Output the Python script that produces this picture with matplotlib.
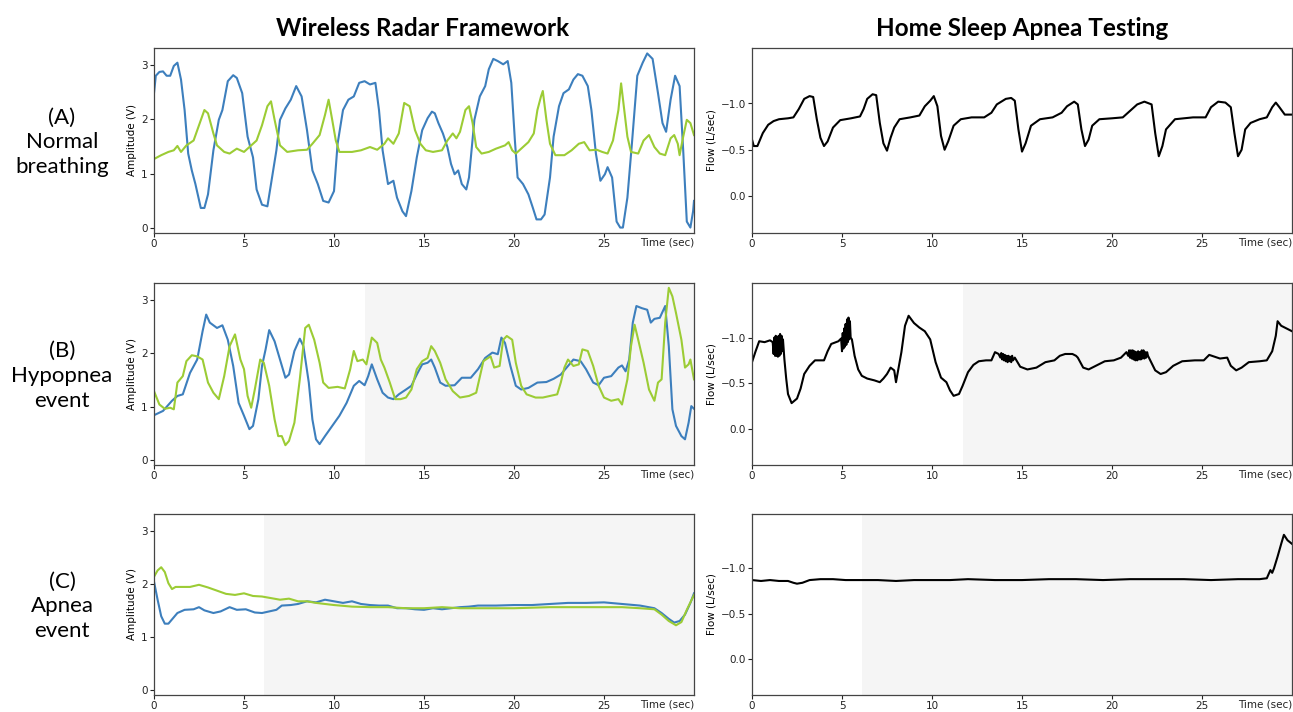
import matplotlib
matplotlib.use("Agg")
import matplotlib.pyplot as plt

# ---- data (time in s, value) ----
a_blue = [(0, 2.48), (0.1, 2.8), (0.3, 2.87), (0.5, 2.88), (0.7, 2.8), (0.9, 2.8), (1.1, 2.98), (1.3, 3.04),
          (1.5, 2.73), (1.7, 2.17), (1.9, 1.37), (2.1, 1.06), (2.3, 0.81), (2.6, 0.37), (2.8, 0.37), (3.0, 0.62),
          (3.3, 1.43), (3.6, 1.99), (3.8, 2.17), (4.1, 2.70), (4.4, 2.81), (4.6, 2.76), (4.9, 2.48), (5.2, 1.68),
          (5.5, 1.30), (5.7, 0.71), (6.0, 0.43), (6.3, 0.40), (6.5, 0.81), (6.8, 1.43), (7.0, 1.99), (7.3, 2.20),
          (7.6, 2.36), (7.9, 2.61), (8.2, 2.42), (8.5, 1.80), (8.8, 1.06), (9.1, 0.81), (9.4, 0.50), (9.7, 0.47),
          (10.0, 0.68), (10.2, 1.55), (10.5, 2.17), (10.8, 2.36), (11.1, 2.42), (11.4, 2.67), (11.7, 2.70),
          (12.0, 2.64), (12.3, 2.67), (12.5, 2.17), (12.7, 1.43), (13.0, 0.81), (13.3, 0.87), (13.5, 0.56),
          (13.8, 0.31), (14.0, 0.22), (14.3, 0.68), (14.6, 1.30), (14.9, 1.80), (15.2, 2.02), (15.44, 2.14),
          (15.6, 2.11), (15.8, 1.93), (16.05, 1.74), (16.3, 1.49), (16.5, 1.18), (16.7, 0.99), (16.9, 1.06),
          (17.1, 0.81), (17.35, 0.71), (17.5, 0.93), (17.8, 1.99), (18.1, 2.42), (18.4, 2.61), (18.6, 2.92),
          (18.85, 3.11), (19.1, 3.07), (19.4, 3.01), (19.65, 3.07), (19.85, 2.67), (20.05, 1.61), (20.2, 0.93),
          (20.5, 0.81), (20.8, 0.62), (21.05, 0.37), (21.25, 0.16), (21.5, 0.16), (21.7, 0.25), (22.0, 0.93),
          (22.2, 1.68), (22.5, 2.24), (22.75, 2.48), (23.05, 2.55), (23.3, 2.73), (23.55, 2.83), (23.8, 2.80),
          (24.1, 2.61), (24.3, 2.17), (24.55, 1.37), (24.8, 0.87), (25.05, 0.99), (25.2, 1.12), (25.45, 0.93),
          (25.7, 0.12), (25.9, 0.01), (26.05, 0.01), (26.3, 0.56), (26.55, 1.55), (26.85, 2.80), (27.15, 3.04),
          (27.4, 3.21), (27.7, 3.11), (28.0, 2.48), (28.25, 1.93), (28.45, 1.77), (28.7, 2.36), (28.95, 2.80),
          (29.2, 2.61), (29.4, 1.43), (29.6, 0.12), (29.8, 0.01), (29.95, 0.31), (30, 0.50)]

a_green = [(0, 1.27), (0.4, 1.34), (0.8, 1.40), (1.1, 1.43), (1.3, 1.51), (1.5, 1.40), (1.8, 1.52), (2.2, 1.61),
           (2.5, 1.89), (2.8, 2.17), (3.0, 2.11), (3.3, 1.74), (3.5, 1.52), (3.9, 1.40), (4.2, 1.37), (4.6, 1.46),
           (5.0, 1.40), (5.3, 1.49), (5.7, 1.61), (6.0, 1.89), (6.3, 2.24), (6.5, 2.33), (6.7, 1.99), (7.0, 1.52),
           (7.4, 1.40), (8.0, 1.43), (8.5, 1.44), (8.8, 1.55), (9.2, 1.71), (9.5, 2.08), (9.7, 2.36), (9.9, 1.99),
           (10.1, 1.61), (10.3, 1.40), (11.0, 1.40), (11.5, 1.43), (12.0, 1.49), (12.4, 1.44), (12.8, 1.55),
           (13.0, 1.65), (13.3, 1.55), (13.6, 1.74), (13.9, 2.30), (14.2, 2.24), (14.5, 1.80), (14.8, 1.55),
           (15.1, 1.43), (15.5, 1.40), (16.0, 1.43), (16.3, 1.61), (16.6, 1.74), (16.8, 1.65), (17.0, 1.77),
           (17.3, 2.17), (17.5, 2.24), (17.7, 1.93), (17.9, 1.49), (18.2, 1.37), (18.6, 1.40), (19.0, 1.46),
           (19.5, 1.52), (19.7, 1.58), (19.9, 1.43), (20.1, 1.37), (20.5, 1.49), (20.8, 1.58), (21.1, 1.74),
           (21.3, 2.17), (21.5, 2.42), (21.6, 2.52), (21.8, 1.99), (22.0, 1.55), (22.3, 1.34), (22.8, 1.34),
           (23.2, 1.43), (23.6, 1.55), (23.9, 1.58), (24.2, 1.43), (24.6, 1.44), (24.9, 1.40), (25.2, 1.37),
           (25.5, 1.61), (25.8, 2.17), (25.95, 2.66), (26.1, 2.24), (26.3, 1.68), (26.5, 1.40), (26.9, 1.37),
           (27.2, 1.61), (27.5, 1.71), (27.8, 1.49), (28.1, 1.37), (28.4, 1.34), (28.7, 1.65), (28.9, 1.71),
           (29.1, 1.55), (29.2, 1.34), (29.4, 1.68), (29.6, 1.99), (29.8, 1.93), (30, 1.71)]

b_blue = [(0, 0.84), (0.5, 0.92), (1.0, 1.11), (1.3, 1.20), (1.6, 1.23), (2.0, 1.63), (2.4, 1.88), (2.7, 2.41),
          (2.9, 2.72), (3.1, 2.57), (3.5, 2.47), (3.8, 2.52), (4.1, 2.25), (4.4, 1.76), (4.7, 1.07), (5.0, 0.83),
          (5.3, 0.58), (5.5, 0.64), (5.8, 1.14), (6.0, 1.76), (6.2, 2.07), (6.4, 2.43), (6.7, 2.22), (7.0, 1.88),
          (7.3, 1.54), (7.5, 1.60), (7.8, 2.04), (8.1, 2.27), (8.3, 2.13), (8.6, 1.45), (8.8, 0.76), (9.0, 0.39),
          (9.2, 0.30), (9.5, 0.45), (9.9, 0.64), (10.3, 0.83), (10.7, 1.07), (11.1, 1.39), (11.4, 1.48),
          (11.7, 1.40), (11.9, 1.57), (12.1, 1.79), (12.4, 1.51), (12.7, 1.26), (13.0, 1.17), (13.3, 1.14),
          (13.6, 1.23), (14.0, 1.32), (14.3, 1.39), (14.6, 1.60), (14.9, 1.79), (15.2, 1.82), (15.4, 1.88),
          (15.6, 1.73), (15.9, 1.45), (16.2, 1.39), (16.7, 1.40), (17.1, 1.54), (17.6, 1.54), (18.0, 1.70),
          (18.4, 1.91), (18.8, 2.01), (19.1, 1.98), (19.3, 2.29), (19.5, 2.19), (19.8, 1.76), (20.1, 1.39),
          (20.4, 1.32), (20.8, 1.35), (21.3, 1.45), (21.8, 1.46), (22.2, 1.52), (22.6, 1.60), (23.0, 1.76),
          (23.3, 1.88), (23.7, 1.85), (24.0, 1.70), (24.4, 1.45), (24.7, 1.40), (25.0, 1.54), (25.4, 1.57),
          (25.8, 1.73), (26.0, 1.77), (26.2, 1.66), (26.4, 1.88), (26.6, 2.57), (26.8, 2.88), (27.1, 2.84),
          (27.4, 2.81), (27.6, 2.57), (27.8, 2.64), (28.1, 2.66), (28.4, 2.88), (28.6, 2.13), (28.8, 0.95),
          (29.0, 0.64), (29.3, 0.45), (29.5, 0.39), (29.7, 0.70), (29.85, 1.01), (30, 0.96)]

b_green = [(0, 1.29), (0.3, 1.04), (0.6, 0.96), (0.9, 0.98), (1.1, 0.95), (1.3, 1.45), (1.6, 1.57), (1.8, 1.85),
           (2.1, 1.96), (2.4, 1.94), (2.7, 1.88), (3.0, 1.45), (3.3, 1.26), (3.6, 1.14), (3.9, 1.57), (4.2, 2.13),
           (4.5, 2.35), (4.8, 1.88), (5.0, 1.70), (5.2, 1.20), (5.4, 0.98), (5.6, 1.32), (5.9, 1.88), (6.1, 1.82),
           (6.4, 1.39), (6.7, 0.76), (6.9, 0.45), (7.1, 0.45), (7.3, 0.28), (7.5, 0.36), (7.8, 0.70), (8.1, 1.51),
           (8.4, 2.47), (8.6, 2.53), (8.9, 2.25), (9.2, 1.82), (9.4, 1.45), (9.7, 1.35), (10.2, 1.37), (10.6, 1.34),
           (10.9, 1.70), (11.1, 2.04), (11.3, 1.85), (11.6, 1.88), (11.8, 1.79), (12.1, 2.29), (12.4, 2.19),
           (12.6, 1.88), (12.8, 1.73), (13.1, 1.45), (13.4, 1.14), (13.7, 1.14), (14.0, 1.17), (14.3, 1.32),
           (14.6, 1.70), (14.9, 1.85), (15.2, 1.91), (15.4, 2.13), (15.6, 2.04), (15.9, 1.82), (16.2, 1.51),
           (16.6, 1.29), (17.0, 1.17), (17.5, 1.20), (17.9, 1.26), (18.3, 1.85), (18.7, 1.94), (18.9, 1.73),
           (19.2, 1.76), (19.4, 2.25), (19.6, 2.32), (19.9, 2.25), (20.1, 1.82), (20.4, 1.39), (20.7, 1.23),
           (21.2, 1.17), (21.6, 1.17), (22.0, 1.20), (22.4, 1.23), (22.6, 1.45), (22.8, 1.73), (23.0, 1.88),
           (23.3, 1.76), (23.6, 1.79), (23.8, 2.07), (24.1, 2.04), (24.4, 1.76), (24.7, 1.39), (25.0, 1.17),
           (25.4, 1.11), (25.8, 1.14), (26.0, 1.04), (26.3, 1.51), (26.5, 2.13), (26.7, 2.53), (26.9, 2.25),
           (27.2, 1.82), (27.5, 1.32), (27.8, 1.11), (28.0, 1.45), (28.2, 1.51), (28.4, 2.57), (28.6, 3.22),
           (28.8, 3.06), (29.0, 2.75), (29.3, 2.25), (29.5, 1.73), (29.7, 1.79), (29.8, 1.88), (30, 1.51)]

c_blue = [(0, 2.04), (0.2, 1.70), (0.4, 1.39), (0.6, 1.25), (0.8, 1.25), (1.0, 1.33), (1.3, 1.45), (1.7, 1.51),
          (2.2, 1.52), (2.5, 1.56), (2.8, 1.50), (3.3, 1.45), (3.7, 1.48), (4.2, 1.56), (4.6, 1.51), (5.1, 1.52),
          (5.6, 1.46), (6.0, 1.45), (6.4, 1.48), (6.8, 1.51), (7.1, 1.59), (7.6, 1.60), (8.0, 1.62), (8.5, 1.67),
          (9.0, 1.65), (9.5, 1.70), (10.0, 1.67), (10.5, 1.64), (11.0, 1.67), (11.5, 1.62), (12.0, 1.60),
          (12.5, 1.59), (13.0, 1.59), (13.5, 1.54), (14.0, 1.54), (14.5, 1.52), (15.0, 1.51), (15.5, 1.54),
          (16.0, 1.52), (16.5, 1.54), (17.0, 1.56), (17.5, 1.57), (18.0, 1.59), (19.0, 1.59), (20.0, 1.60),
          (21.0, 1.60), (22.0, 1.62), (23.0, 1.64), (24.0, 1.64), (25.0, 1.65), (26.0, 1.62), (27.0, 1.59),
          (27.8, 1.54), (28.2, 1.45), (28.6, 1.34), (28.9, 1.27), (29.2, 1.30), (29.5, 1.42), (29.8, 1.64),
          (30, 1.82)]

c_green = [(0, 2.13), (0.2, 2.25), (0.4, 2.31), (0.6, 2.22), (0.8, 2.01), (1.0, 1.90), (1.2, 1.94), (1.6, 1.94),
           (2.0, 1.94), (2.5, 1.98), (3.0, 1.93), (3.5, 1.87), (4.0, 1.81), (4.5, 1.79), (5.0, 1.82), (5.5, 1.77),
           (6.0, 1.76), (6.5, 1.73), (7.0, 1.70), (7.5, 1.72), (8.0, 1.67), (8.5, 1.67), (9.0, 1.64), (10.0, 1.60),
           (11.0, 1.57), (12.0, 1.56), (13.0, 1.56), (14.0, 1.54), (15.0, 1.54), (16.0, 1.56), (17.0, 1.54),
           (18.0, 1.54), (20.0, 1.54), (22.0, 1.56), (24.0, 1.56), (26.0, 1.56), (27.0, 1.54), (27.8, 1.52),
           (28.2, 1.42), (28.6, 1.30), (29.0, 1.22), (29.3, 1.28), (29.6, 1.51), (30, 1.79)]

a_flow = [(0, -0.61), (0.1, -0.54), (0.3, -0.54), (0.6, -0.68), (0.9, -0.77), (1.2, -0.81), (1.5, -0.83),
          (2.0, -0.84), (2.3, -0.85), (2.6, -0.94), (2.9, -1.05), (3.2, -1.08), (3.4, -1.07), (3.6, -0.83),
          (3.8, -0.63), (4.0, -0.54), (4.2, -0.59), (4.5, -0.74), (4.9, -0.82), (5.5, -0.84), (6.0, -0.86),
          (6.2, -0.94), (6.4, -1.05), (6.7, -1.10), (6.9, -1.09), (7.1, -0.79), (7.3, -0.57), (7.5, -0.49),
          (7.7, -0.63), (7.9, -0.74), (8.2, -0.83), (8.8, -0.85), (9.3, -0.87), (9.6, -0.97), (9.9, -1.03),
          (10.1, -1.08), (10.3, -0.97), (10.5, -0.65), (10.7, -0.50), (10.9, -0.59), (11.2, -0.76), (11.6, -0.83),
          (12.2, -0.85), (12.9, -0.85), (13.3, -0.90), (13.6, -0.99), (14.1, -1.05), (14.4, -1.06), (14.6, -1.03),
          (14.8, -0.72), (15.0, -0.48), (15.2, -0.57), (15.5, -0.76), (16.0, -0.83), (16.7, -0.85), (17.2, -0.90),
          (17.5, -0.97), (17.9, -1.02), (18.1, -0.99), (18.3, -0.72), (18.5, -0.54), (18.7, -0.61), (18.9, -0.76),
          (19.3, -0.83), (20.0, -0.84), (20.6, -0.85), (21.0, -0.92), (21.4, -0.99), (21.8, -1.02), (22.2, -0.99),
          (22.4, -0.68), (22.6, -0.43), (22.8, -0.54), (23.0, -0.72), (23.5, -0.83), (24.5, -0.85), (25.2, -0.85),
          (25.5, -0.96), (25.9, -1.02), (26.3, -1.01), (26.6, -0.96), (26.8, -0.68), (27.0, -0.43), (27.2, -0.50),
          (27.4, -0.72), (27.7, -0.79), (28.2, -0.83), (28.6, -0.85), (28.9, -0.96), (29.1, -1.01), (29.3, -0.96),
          (29.6, -0.88), (30, -0.88)]

b_flow = [(0.0, -0.73), (0.2, -0.85), (0.4, -0.96), (0.7, -0.95), (1.0, -0.97), (1.15, -0.95),
          (1.20, -0.82), (1.24, -1.00), (1.28, -0.80), (1.32, -1.02), (1.36, -0.80), (1.40, -1.00), (1.44, -0.79),
          (1.48, -1.02), (1.52, -0.80), (1.56, -1.04), (1.60, -0.82), (1.64, -1.02), (1.68, -0.85), (1.72, -0.98),
          (1.8, -0.76), (1.9, -0.55), (2.0, -0.38), (2.2, -0.28), (2.5, -0.33), (2.7, -0.44), (2.9, -0.60),
          (3.2, -0.69), (3.5, -0.75), (4.0, -0.75), (4.2, -0.85), (4.4, -0.93), (4.8, -0.96), (4.95, -0.99),
          (5.00, -0.85), (5.04, -1.05), (5.08, -0.88), (5.12, -1.10), (5.16, -0.90), (5.20, -1.15), (5.24, -0.92),
          (5.28, -1.20), (5.32, -0.95), (5.36, -1.22), (5.40, -0.98), (5.44, -1.18), (5.48, -1.00),
          (5.55, -0.98), (5.7, -0.80), (5.9, -0.65), (6.1, -0.58), (6.4, -0.55), (6.8, -0.53), (7.1, -0.51),
          (7.3, -0.55), (7.5, -0.60), (7.7, -0.67), (7.9, -0.64), (8.0, -0.51), (8.1, -0.62), (8.3, -0.84),
          (8.5, -1.13), (8.7, -1.24), (9.0, -1.16), (9.3, -1.11), (9.6, -1.07), (9.9, -0.98), (10.2, -0.73),
          (10.5, -0.56), (10.8, -0.51), (11.0, -0.42), (11.2, -0.36), (11.5, -0.38), (11.7, -0.47), (12.0, -0.62),
          (12.3, -0.70), (12.6, -0.74), (13.0, -0.75), (13.3, -0.75), (13.5, -0.84), (13.7, -0.82),
          (13.80, -0.78), (13.85, -0.83), (13.90, -0.76), (13.95, -0.82), (14.00, -0.75), (14.05, -0.81),
          (14.10, -0.74), (14.15, -0.80), (14.20, -0.73), (14.25, -0.80), (14.30, -0.74), (14.35, -0.79),
          (14.40, -0.73), (14.45, -0.80), (14.50, -0.75),
          (14.6, -0.78), (14.9, -0.68), (15.3, -0.65), (15.8, -0.67), (16.3, -0.73), (16.8, -0.75), (17.1, -0.80),
          (17.4, -0.82), (17.8, -0.82), (18.0, -0.80), (18.1, -0.78), (18.4, -0.67), (18.7, -0.65), (19.1, -0.69),
          (19.6, -0.74), (20.1, -0.75), (20.5, -0.78), (20.8, -0.84),
          (20.90, -0.80), (20.95, -0.86), (21.00, -0.78), (21.05, -0.86), (21.10, -0.77), (21.15, -0.86),
          (21.20, -0.76), (21.25, -0.85), (21.30, -0.75), (21.35, -0.84), (21.40, -0.75), (21.45, -0.85),
          (21.50, -0.76), (21.55, -0.84), (21.60, -0.76), (21.65, -0.86), (21.70, -0.77), (21.75, -0.86),
          (21.80, -0.77), (21.85, -0.84), (21.90, -0.78), (21.95, -0.84), (22.00, -0.80),
          (22.1, -0.76), (22.4, -0.64), (22.7, -0.60), (23.0, -0.62), (23.4, -0.69), (23.9, -0.74), (24.6, -0.75),
          (25.1, -0.75), (25.4, -0.81), (25.7, -0.79), (26.0, -0.77), (26.4, -0.78), (26.6, -0.69), (26.9, -0.64),
          (27.2, -0.67), (27.6, -0.73), (28.2, -0.74), (28.6, -0.75), (28.9, -0.85), (29.1, -1.02), (29.2, -1.18),
          (29.4, -1.13), (29.7, -1.10), (30.0, -1.07)]

c_flow = [(0, -0.87), (0.5, -0.86), (1.0, -0.87), (1.5, -0.86), (2.0, -0.86), (2.3, -0.84), (2.5, -0.83),
          (2.8, -0.84), (3.2, -0.87), (3.8, -0.88), (4.5, -0.88), (5.2, -0.87), (6.0, -0.87), (7.0, -0.87),
          (8.0, -0.86), (9.0, -0.87), (10.0, -0.87), (11.0, -0.87), (12.0, -0.88), (13.5, -0.87), (15.0, -0.87),
          (16.5, -0.88), (18.0, -0.88), (19.5, -0.87), (21.0, -0.88), (22.5, -0.88), (24.0, -0.88), (25.5, -0.87),
          (27.0, -0.88), (28.2, -0.88), (28.6, -0.89), (28.8, -0.98), (28.9, -0.95), (29.0, -1.00), (29.2, -1.13),
          (29.4, -1.27), (29.55, -1.37), (29.75, -1.31), (30, -1.27)]

shade_start = [None, 11.7, 6.1]
row_labels = ["(A)\nNormal\nbreathing", "(B)\nHypopnea\nevent", "(C)\nApnea\nevent"]
col_titles = ["Wireless Radar Framework", "Home Sleep Apnea Testing"]

radar = [(a_blue, a_green), (b_blue, b_green), (c_blue, c_green)]
flows = [a_flow, b_flow, c_flow]

BLUE = "#3d7fbd"
GREEN = "#9ccc35"

W, H = 1293, 712
fig = plt.figure(figsize=(W / 100, H / 100), dpi=100)


def px_axes(x0, x1, top, bot):
    return fig.add_axes([x0 / W, 1 - bot / H, (x1 - x0) / W, (bot - top) / H])


def style(ax):
    ax.set_xlim(0, 30)
    ax.set_xticks([0, 5, 10, 15, 20, 25])
    ax.tick_params(labelsize=7.5, length=3, width=0.8, colors="#222222", pad=1.5)
    for s in ax.spines.values():
        s.set_color("#444444")
        s.set_linewidth(0.9)
    ax.text(1.0, -0.025, "Time (sec)", transform=ax.transAxes, ha="right", va="top",
            fontsize=7.5, color="#222222")


rows = [(48, 233), (283, 465), (514, 695)]
for i, (top, bot) in enumerate(rows):
    axl = px_axes(154, 694, top, bot)
    axr = px_axes(752, 1292, top, bot)
    blue, green = radar[i]
    axl.plot([p[0] for p in blue], [p[1] for p in blue], color=BLUE, lw=1.5)
    axl.plot([p[0] for p in green], [p[1] for p in green], color=GREEN, lw=1.5)
    axl.set_ylim(-0.09, 3.31)
    axl.set_yticks([0, 1, 2, 3])
    axl.set_ylabel("Amplitude (V)", fontsize=7.5, labelpad=3)

    fl = flows[i]
    axr.plot([p[0] for p in fl], [p[1] for p in fl], color="black", lw=1.5)
    axr.set_ylim(0.4, -1.6)
    axr.set_yticks([-1.0, -0.5, 0.0])
    axr.set_yticklabels(["\u22121.0", "\u22120.5", "0.0"])
    axr.set_ylabel("Flow (L/sec)", fontsize=7.5, labelpad=3)

    for ax in (axl, axr):
        style(ax)
        if shade_start[i] is not None:
            ax.axvspan(shade_start[i], 30, color="#f5f5f5", zorder=0, lw=0)

    fig.text(62 / W, 1 - ((top + bot) / 2 + 2) / H, row_labels[i], ha="center", va="center",
             fontsize=16, family=["Lato", "DejaVu Sans"], linespacing=1.3)

fig.text(423 / W, 1 - 28 / H, col_titles[0], ha="center", va="center", fontsize=17.5,
         fontweight="bold", family=["Lato", "DejaVu Sans"])
fig.text(1022 / W, 1 - 28 / H, col_titles[1], ha="center", va="center", fontsize=17.5,
         fontweight="bold", family=["Lato", "DejaVu Sans"])

fig.savefig("out.png", dpi=100)
